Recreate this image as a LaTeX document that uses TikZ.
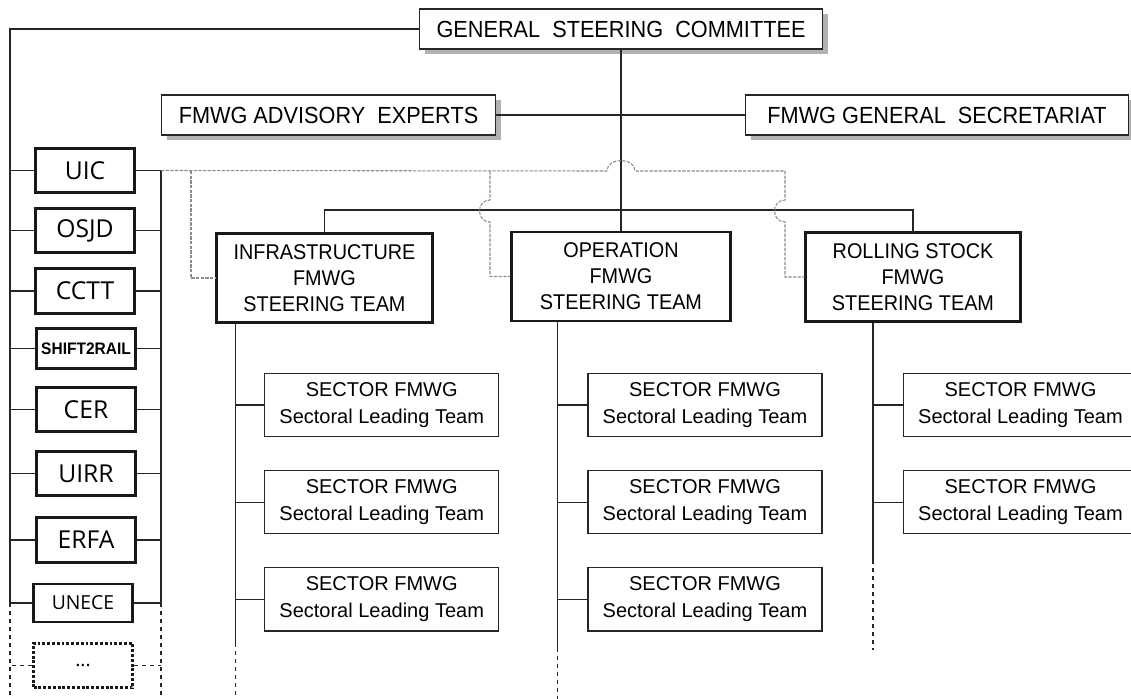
\documentclass[tikz,border=0pt]{standalone}
\usepackage{fontspec}
\setmainfont{Liberation Sans}
\newfontfamily\narrowfont[FakeStretch=0.93]{Liberation Sans}
\newfontfamily\memberfont{Open Sans}
\usepackage{tikz}
\usetikzlibrary{positioning, calc, shadows}

\begin{document}
\begin{tikzpicture}[
                x=0.75pt, y=-0.75pt,
                every node/.style={inner sep=0pt, align=center},
                topbox/.style={rectangle, draw=black!85, line width=0.9pt, fill=white,
                    minimum height=30pt, font=\narrowfont\fontsize{17.5}{20}\selectfont,
                    drop shadow={shadow xshift=4pt, shadow yshift=-4pt, fill=black!60, opacity=0.5}},
                member/.style={rectangle, draw=black!90, line width=2.2pt, fill=white,
                    minimum width=74pt, minimum height=33.5pt, font=\memberfont\fontsize{18.5}{22}\selectfont},
                steering/.style={rectangle, draw=black!90, line width=1.8pt, fill=white,
                    minimum width=162pt, minimum height=67pt, font=\narrowfont\fontsize{16}{19.5}\selectfont},
                sector/.style={rectangle, draw=black!85, line width=0.9pt, fill=white,
                    minimum width=175.5pt, minimum height=47.5pt, font=\fontsize{15}{20}\selectfont},
                link/.style={draw=black!85, line width=1pt},
                spare/.style={link, dash pattern=on 3pt off 3pt},
                liaison/.style={draw=black!45, line width=0.8pt, dash pattern=on 2.5pt off 1pt}
            ]
            \useasboundingbox (0,0) rectangle (1131,699);

            % committee level
            \node[topbox, minimum width=302pt] (GSC) at (621,29) {GENERAL\ \ STEERING\ \ COMMITTEE};
            \node[topbox, minimum width=251pt] (ADV) at (328.5,115) {FMWG ADVISORY\ \ EXPERTS};
            \node[topbox, minimum width=287pt] (SEC) at (937,115) {FMWG GENERAL\ \ SECRETARIAT};

            % member organisations
            \node[member] (UIC) at (85,170.5) {UIC};
            \node[member] (OSJD) at (85,230.5) {OSJD};
            \node[member] (CCTT) at (85,291) {CCTT};
            \node[member, minimum height=30.5pt, font=\narrowfont\bfseries\fontsize{12.5}{14}\selectfont] (S2R) at (86,348.5) {SHIFT2RAIL};
            \node[member] (CER) at (86,409.5) {CER};
            \node[member] (UIRR) at (86,473.5) {UIRR};
            \node[member] (ERFA) at (86,540) {ERFA};
            \node[member, minimum height=28.5pt, font=\memberfont\fontsize{14.5}{18}\selectfont] (UNECE) at (83,603) {UNECE};
            \node[member, dash pattern=on 2.2pt off 1.4pt, minimum height=33.5pt, font=\memberfont\fontsize{14.5}{18}\selectfont] (MORE) at (83,665.5) {...};

            % steering teams
            \node[steering] (INF) at (324.5,278) {INFRASTRUCTURE\\FMWG\\STEERING TEAM};
            \node[steering, minimum width=164pt] (OPS) at (621,276.5) {OPERATION\\FMWG\\STEERING TEAM};
            \node[steering, minimum width=161pt] (RST) at (913,277) {ROLLING STOCK\\FMWG\\STEERING TEAM};

            % sector teams
            \node[sector] (I1) at (381.7,405) {SECTOR FMWG\\Sectoral Leading Team};
            \node[sector, below=24.5pt of I1] (I2) {SECTOR FMWG\\Sectoral Leading Team};
            \node[sector, below=24.5pt of I2] (I3) {SECTOR FMWG\\Sectoral Leading Team};
            \node[sector] (O1) at (705,405) {SECTOR FMWG\\Sectoral Leading Team};
            \node[sector, below=24.5pt of O1] (O2) {SECTOR FMWG\\Sectoral Leading Team};
            \node[sector, below=24.5pt of O2] (O3) {SECTOR FMWG\\Sectoral Leading Team};
            \node[sector] (R1) at (1020.5,405) {SECTOR FMWG\\Sectoral Leading Team};
            \node[sector, below=24.5pt of R1] (R2) {SECTOR FMWG\\Sectoral Leading Team};

            % buses of the member column
            \coordinate (LB) at (10,29);
            \coordinate (LBend) at (10,603);
            \coordinate (RB) at (161,170.5);
            \coordinate (RBend) at (161,603);
            \draw[link] (GSC.west) -- (LB) -- (LBend);
            \draw[spare] (LBend) -- (10,699);
            \draw[link] (RB) -- (RBend);
            \draw[spare] (RBend) -- (161,699);
            \foreach \m in {UIC, OSJD, CCTT, S2R, CER, UIRR, ERFA, UNECE}{
                \draw[link] (\m.west) -- (\m.west -| LB);
                \draw[link] (\m.east) -- (\m.east -| RB);
            }
            \draw[spare] (MORE.west) -- (MORE.west -| LB);
            \draw[spare] (MORE.east) -- (MORE.east -| RB);

            % committee links
            \draw[link] (GSC.south) -- (OPS.north);
            \draw[link] (ADV.east) -- (SEC.west);
            \draw[link] (INF.north) -- ++(0,-22) -| (RST.north);

            % liaison from the members
            \draw[liaison] (RB) -- (607,171) .. controls (607,157) and (635,157) .. (635,171)
                -- (785,171) -- (785,200) .. controls (771,200) and (771,222) .. (785,222) |- (RST.west);
            \draw[liaison] (191,171) |- (INF.west);
            \draw[liaison] (490,171) -- (490,200) .. controls (476,200) and (476,222) .. (490,222) |- (OPS.west);

            % sector spines
            \coordinate (IS) at ($(INF.south west)+(20,0)$);
            \coordinate (OS) at ($(OPS.south west)+(47,0)$);
            \coordinate (RS) at ($(RST.south west)+(68.5,0)$);
            \draw[link] (IS) -- (IS |- 0,643);
            \draw[spare] (IS |- 0,643) -- (IS |- 0,699);
            \draw[link] (OS) -- (OS |- 0,648);
            \draw[spare] (OS |- 0,648) -- (OS |- 0,699);
            \draw[link] (RS) -- (RS |- 0,560);
            \draw[spare] (RS |- 0,560) -- (RS |- 0,650);
            \foreach \s in {I1, I2, I3}{\draw[link] (\s.west) -- (\s.west -| IS);}
            \foreach \s in {O1, O2, O3}{\draw[link] (\s.west) -- (\s.west -| OS);}
            \foreach \s in {R1, R2}{\draw[link] (\s.west) -- (\s.west -| RS);}
        \end{tikzpicture}
\end{document}
